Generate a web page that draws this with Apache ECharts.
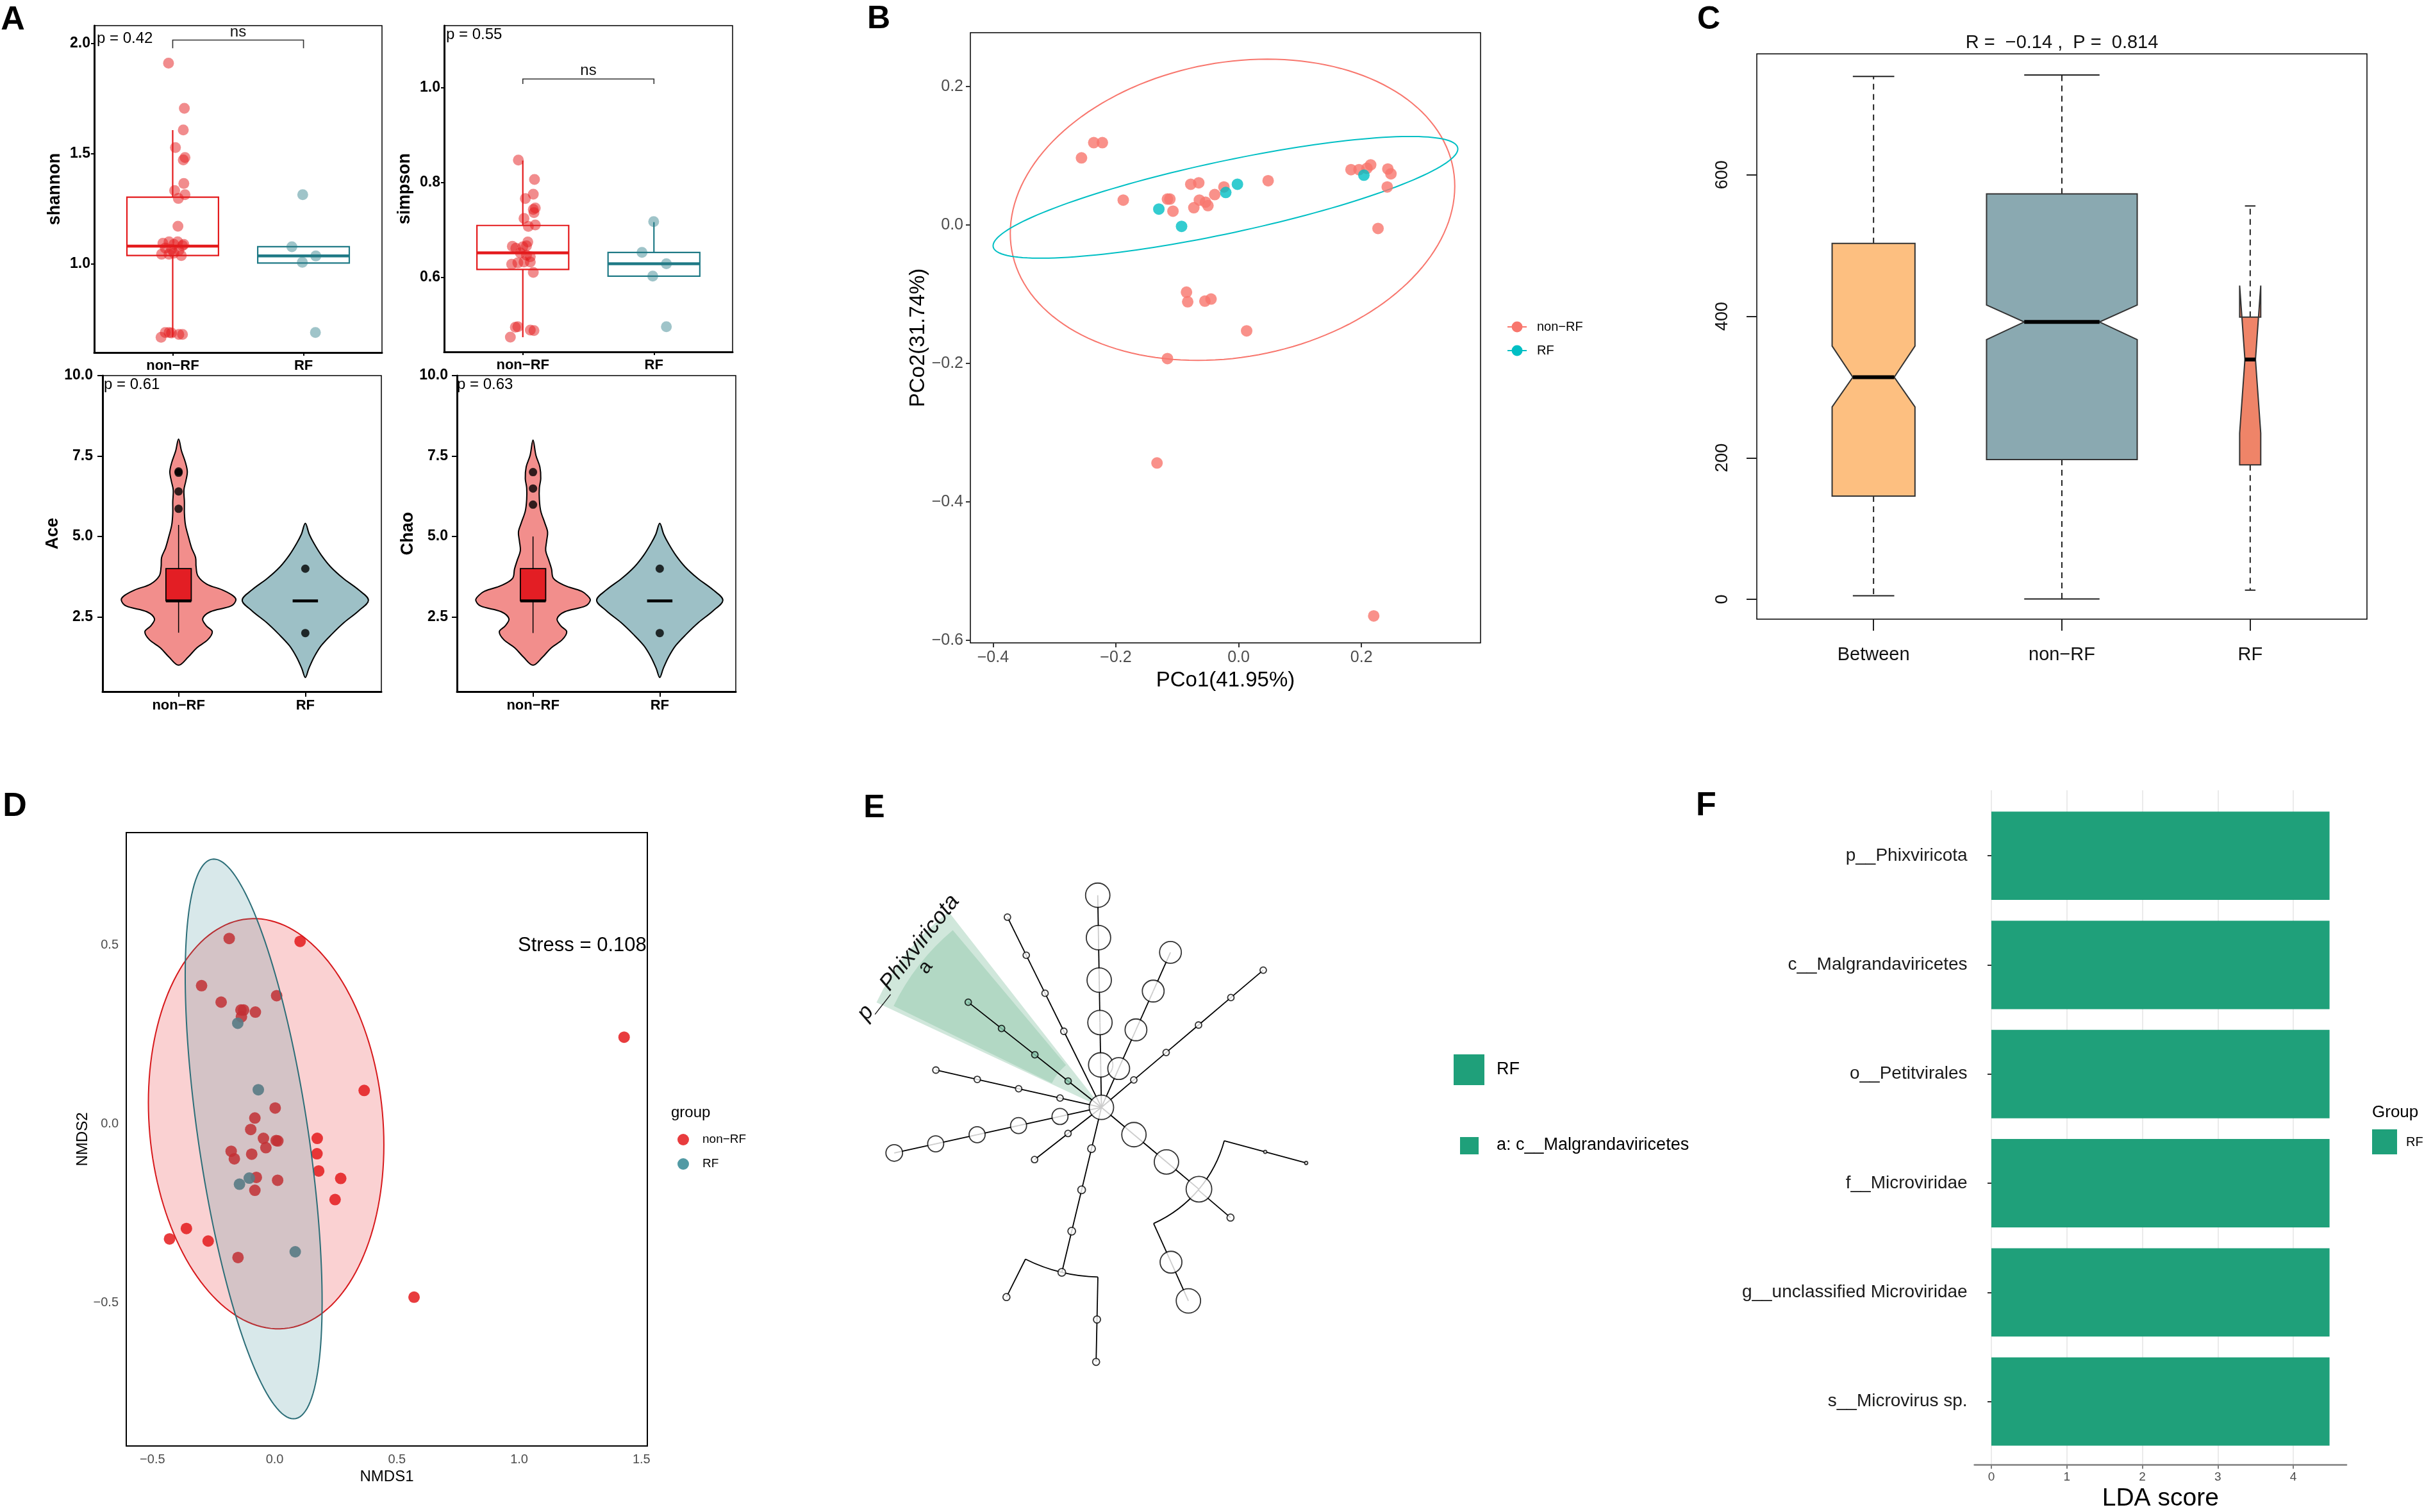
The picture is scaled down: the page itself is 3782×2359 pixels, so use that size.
<!DOCTYPE html>
<html><head><meta charset="utf-8">
<script src="https://cdn.jsdelivr.net/npm/echarts@6/dist/echarts.min.js"></script>
<style>html,body{margin:0;padding:0;background:#fff}#c{width:3782px;height:2359px}</style>
</head><body><div id="c"></div>
<script>
const FONT = '"Liberation Sans", Arial, Helvetica, sans-serif';

// ---------- Panel A data ----------
const groupsA = ['non−RF', 'RF'];
const shannonNonRF = [[0.968,1.910],[1.089,1.705],[1.081,1.607],[1.021,1.527],[1.094,1.482],[1.081,1.471],[1.085,1.364],[1.015,1.332],[1.094,1.313],[1.043,1.296],[1.040,1.170],
[0.925,1.093],[0.972,1.099],[1.009,1.088],[1.038,1.099],[1.075,1.082],[0.915,1.043],[0.972,1.043],[1.009,1.048],[1.066,1.037],[0.943,1.071],[0.991,1.065],[1.047,1.060],[1.085,1.088],
[0.911,0.666],[0.943,0.688],[0.972,0.688],[0.991,0.686],[1.047,0.679],[1.075,0.679]];
const shannonRF = [[1.994,1.313],[1.911,1.077],[2.094,1.035],[1.991,1.006],[2.091,0.688]];
// [x, lowerWhisker, q1, median, q3, upperWhisker]
const shannonBoxes = [[1,0.666,1.037,1.080,1.302,1.606],[2,1.003,1.003,1.035,1.077,1.077]];
const shannonTicks = [1.0,1.5,2.0];

const simpsonNonRF = [[0.966,0.847],[1.089,0.806],[1.080,0.775],[1.019,0.766],[1.095,0.746],[1.080,0.743],[1.085,0.736],[1.009,0.724],[1.095,0.710],[1.042,0.707],[1.038,0.674],
[0.920,0.665],[0.947,0.661],[1.000,0.664],[1.028,0.666],[0.981,0.651],[1.028,0.646],[1.057,0.643],[0.915,0.627],[0.962,0.630],[1.009,0.632],[1.057,0.632],[1.080,0.610],
[0.943,0.494],[0.962,0.495],[1.057,0.488],[1.085,0.487],[0.905,0.473]];
const simpsonRF = [[1.998,0.717],[1.909,0.652],[2.095,0.628],[1.991,0.602],[2.095,0.495]];
const simpsonBoxes = [[1,0.473,0.616,0.651,0.709,0.846],[2,0.602,0.602,0.628,0.652,0.716]];
const simpsonTicks = [0.6,0.8,1.0];

// violin density outlines: [value, half-width]
const aceNonRFViolin = [[1.0,0],[1.25,0.075],[1.54,0.144],[1.79,0.23],[2.04,0.266],[2.22,0.22],[2.44,0.19],[2.66,0.25],[2.84,0.414],[3.02,0.452],[3.16,0.429],[3.34,0.345],[3.52,0.222],[3.77,0.153],[4.06,0.138],[4.35,0.134],[4.64,0.103],[5.0,0.077],[5.36,0.054],[5.72,0.046],[6.08,0.046],[6.44,0.042],[6.72,0.057],[7.01,0.069],[7.30,0.054],[7.66,0.023],[8.03,0]];
const aceRFViolin = [[0.62,0],[0.89,0.027],[1.25,0.069],[1.61,0.126],[1.97,0.211],[2.33,0.307],[2.69,0.421],[3.02,0.498],[3.34,0.421],[3.70,0.299],[4.06,0.199],[4.42,0.126],[4.78,0.069],[5.07,0.031],[5.41,0]];
const chaoNonRFViolin = [[1.0,0],[1.25,0.075],[1.54,0.144],[1.79,0.23],[2.04,0.266],[2.22,0.22],[2.44,0.19],[2.66,0.25],[2.84,0.414],[3.02,0.452],[3.16,0.43],[3.30,0.383],[3.48,0.249],[3.70,0.161],[3.99,0.146],[4.28,0.123],[4.56,0.10],[4.85,0.107],[5.14,0.115],[5.43,0.092],[5.79,0.061],[6.15,0.05],[6.51,0.05],[6.80,0.061],[7.16,0.054],[7.52,0.023],[8.0,0]];
const chaoRFViolin = [[0.62,0],[0.89,0.027],[1.25,0.069],[1.61,0.126],[1.97,0.211],[2.33,0.307],[2.69,0.421],[3.02,0.498],[3.34,0.421],[3.70,0.299],[4.06,0.199],[4.42,0.126],[4.78,0.069],[5.07,0.031],[5.41,0]];
const aceBoxes = [[1,2.01,3.0,3.0,4.0,5.36],[2,3.0,3.0,3.0,3.0,3.0]];
const chaoBoxes = [[1,2.0,3.0,3.0,4.0,5.0],[2,3.0,3.0,3.0,3.0,3.0]];
const aceOutliers = [[1,7.02],[1,6.98],[1,6.40],[1,5.86],[2,4.0],[2,2.0]];
const chaoOutliers = [[1,7.0],[1,6.49],[1,5.99],[2,4.0],[2,2.0]];
const richTicks = [2.5,5.0,7.5,10.0];

// ---------- Panel B data ----------
const pcoaNonRF = [[-0.256,0.097],[-0.236,0.119],[-0.222,0.119],[-0.188,0.036],[-0.116,0.0375],[-0.112,0.0375],[-0.107,0.020],[-0.078,0.059],[-0.065,0.061],[-0.073,0.025],[-0.064,0.036],[-0.054,0.033],[-0.050,0.028],[-0.039,0.044],[-0.024,0.055],[0.048,0.064],[0.183,0.080],[0.196,0.080],[0.209,0.082],[0.215,0.087],[0.243,0.081],[0.248,0.074],[0.242,0.055],[0.227,-0.005],[-0.085,-0.097],[-0.083,-0.111],[-0.055,-0.110],[-0.045,-0.107],[0.013,-0.153],[-0.116,-0.193],[-0.133,-0.344],[0.220,-0.565]];
const pcoaRF = [[-0.130,0.023],[-0.093,-0.002],[-0.021,0.047],[-0.002,0.059],[0.204,0.072]];
// confidence ellipses: [cx, cy, ux, uy, vx, vy]
const pcoaEllipses = [[-0.01,0.022,0.362,0.034,0,0.215],[-0.0215,0.040,0.3785,0.070,0,0.0533]];
const pcoaXTicks = [-0.4,-0.2,0,0.2];
const pcoaYTicks = [-0.6,-0.4,-0.2,0,0.2];

// ---------- Panel C data ----------
const anosimCats = ['Between','non−RF','RF'];
// [x, lowerWhisker, q1, notchLow, median, notchHigh, q3, upperWhisker]
const anosimBoxes = [[1,5,146,272,314,358,503,739],[2,0.6,197.5,367,392,416,573,741],[3,13,190,235,339,443.5,399,556]];
const anosimRelWidth = [0.22,0.40,0.056];
const anosimTicks = [0,200,400,600];

// ---------- Panel D data ----------
const nmdsNonRF = [[-0.186,0.518],[0.104,0.510],[-0.299,0.386],[-0.219,0.340],[0.008,0.358],[-0.138,0.318],[-0.127,0.318],[-0.136,0.299],[-0.079,0.312],[1.429,0.242],[0.366,0.093],[0.002,0.044],[-0.081,0.016],[-0.098,-0.016],[-0.046,-0.041],[0.006,-0.047],[0.013,-0.048],[-0.036,-0.067],[0.174,-0.041],[0.173,-0.084],[-0.178,-0.077],[-0.165,-0.098],[-0.094,-0.085],[0.180,-0.132],[-0.075,-0.150],[0.012,-0.158],[-0.081,-0.186],[0.270,-0.153],[0.247,-0.212],[-0.361,-0.293],[-0.430,-0.322],[-0.272,-0.328],[-0.150,-0.374],[0.570,-0.485]];
const nmdsRF = [[-0.151,0.281],[-0.067,0.095],[-0.104,-0.152],[-0.144,-0.169],[0.084,-0.358]];
const nmdsEllipses = [[-0.035,0.0,0.4815,-0.059,0,0.5705],[-0.086,-0.0425,-0.163,0.7825,0.2276,0]];
const nmdsXTicks = [-0.5,0,0.5,1.0,1.5];
const nmdsYTicks = [-0.5,0,0.5];

// ---------- Panel E data (cladogram) ----------
const cladeLevel  = [0, 1,2,3,4,5, 1,2,3,4, 1,2,3,4,5, 2,3,4,5, 1,2,3,4, 1,2,3,4, 1,2,3,4,5, 1,2, 1,2,3,4,5,5,6, 1,2,3,4,5,4,4,5];
const cladeAngle  = [0, 91,91,91,91,91, 66,66,66,66, 40.3,40.3,40.3,40.3,40.3, 116.3,116.3,116.3,116.3, 141.7,141.7,141.7,141.7, 167.3,167.3,167.3,167.3, 192.4,192.4,192.4,192.4,192.4, 218,218, 256.5,256.5,256.5,256.5,243.4,268.8,268.8, 320,320,320,344.8,344.8,319.5,294.2,294.2];
const cladeParent = [-1, 0,1,2,3,4, 0,6,7,8, 0,10,11,12,13, 0,15,16,17, 0,19,20,21, 0,23,24,25, 0,27,28,29,30, 0,32, 0,34,35,36,37,37,39, 0,41,42,43,44,43,43,47];
const cladeAbund  = [19, 19,19,19,19,19, 17,17,17,17, 5,5,5,5,5, 5,5,5,5, 5,5,5,5, 5,5,5,5, 12.5,12.5,12.5,12.5,13, 5,5, 6,6,6,6,5.5,5.5,5.5, 19,19,20,2.5,2.5,5.5,17,19];
const cladeBiomarker = [19,20,21,22];
// highlighted clades: [innerLevel, outerLevel, angleFrom, angleTo]
const cladeSectors = [[0.3,5.85,128,155],[1.3,5.45,130,154]];
const cladeLabels = ['p__Phixviricota','a'];
const cladeLabelPos = [[5.76,142.2],[5.3,141.5]];

// ---------- Panel F data ----------
const ldaCats = ['p__Phixviricota','c__Malgrandaviricetes','o__Petitvirales','f__Microviridae','g__unclassified Microviridae','s__Microvirus sp.'];
const ldaScore = [4.48,4.48,4.48,4.48,4.48,4.48];
const ldaTicks = [0,1,2,3,4];

// ================= rendering =================
const signed = v => (v < 0 ? '−' : '') + Math.abs(v).toFixed(1);

function gridAt(l,t,r,b,extra){ return Object.assign({left:l, top:t, width:r-l, height:b-t, containLabel:false}, extra||{}); }
const frame = {show:true, borderColor:'#000', borderWidth:1.5, backgroundColor:'transparent'};
const grids = [
  gridAt(147,40,596,550,frame),
  gridAt(693,40,1143,549,frame),
  gridAt(160,586,595,1079,frame),
  gridAt(713,586,1148,1079,frame),
  gridAt(1514,51,2310,1003,frame),
  gridAt(2741,84,3693,966,frame),
  gridAt(197,1299,1010,2256,Object.assign({},frame,{borderWidth:2})),
  gridAt(3080.6,1250,3661,2271.8),
  gridAt(3080.6,1233,3661,2288.7)
];

function axA_x(i, margin, tickLen){
  return {gridIndex:i, type:'value', min:0.4, max:2.6,
    axisLine:{show:true, onZero:false, lineStyle:{color:'#000', width:3}},
    axisTick:{show:true, customValues:[1,2], length:tickLen, lineStyle:{color:'#000', width:2}},
    axisLabel:{customValues:[1,2], formatter:v=>groupsA[Math.round(v)-1], fontFamily:FONT, fontWeight:'bold', fontSize:22, color:'#000', margin},
    splitLine:{show:false}};
}
function axA_y(i, min, max, ticks, name, gap, margin, tickLen){
  return {gridIndex:i, type:'value', min, max,
    axisLine:{show:true, onZero:false, lineStyle:{color:'#000', width:3}},
    axisTick:{show:true, customValues:ticks, length:tickLen, lineStyle:{color:'#000', width:2}},
    axisLabel:{customValues:ticks, formatter:v=>v.toFixed(1), fontFamily:FONT, fontWeight:'bold', fontSize:23, color:'#000', margin},
    splitLine:{show:false},
    name, nameLocation:'middle', nameGap:gap, nameRotate:90,
    nameTextStyle:{fontFamily:FONT, fontWeight:'bold', fontSize:27, color:'#000', verticalAlign:'middle'}};
}
function axPlain(i, dir, min, max, ticks, fmt, o){
  o = o || {};
  return {gridIndex:i, type:'value', min, max,
    axisLine:{show:!!o.line, onZero:false, lineStyle:{color:o.lineColor||'#000', width:o.lineWidth||1.5}},
    axisTick:{show:o.tickLen>0, customValues:ticks, length:o.tickLen||0, lineStyle:{color:o.tickColor||'#333', width:2}},
    axisLabel:{customValues:ticks, formatter:fmt, fontFamily:FONT, fontSize:o.fs, color:o.color||'#4D4D4D', margin:o.margin, rotate:o.rotate||0},
    splitLine:{show:!!o.split, lineStyle:{color:'#EBEBEB', width:2}},
    name:o.name||'', nameLocation:'middle', nameGap:o.gap||0, nameRotate:dir==='y'?90:0,
    nameTextStyle:{fontFamily:FONT, fontSize:o.nfs||24, color:'#000', verticalAlign:'middle'}};
}

const xAxes = [
  axA_x(0,10,5), axA_x(1,10,5), axA_x(2,11,8), axA_x(3,11,8),
  axPlain(4,'x',-0.437,0.394,pcoaXTicks,signed,{fs:25,margin:11,tickLen:7,name:'PCo1(41.95%)',gap:59,nfs:33}),
  axPlain(5,'x',0.38,3.62,[1,2,3],v=>anosimCats[Math.round(v)-1],{fs:29,margin:41,tickLen:18,color:'#111',tickColor:'#222'}),
  axPlain(6,'x',-0.607,1.524,nmdsXTicks,signed,{fs:20,margin:11,tickLen:0,name:'NMDS1',gap:48,nfs:24}),
  {gridIndex:7, type:'value', min:-0.224, max:4.704, show:false},
  axPlain(8,'x',-0.224,4.704,ldaTicks,v=>String(v),{fs:19,margin:10,tickLen:6,tickColor:'#7F7F7F',line:true,lineColor:'#7F7F7F',lineWidth:2.5,split:true,name:'LDA score',gap:53,nfs:39})
];
const yAxes = [
  axA_y(0,0.597,2.08,shannonTicks,'shannon',61,6,5),
  axA_y(1,0.442,1.131,simpsonTicks,'simpson',61,6,5),
  axA_y(2,0.18,10.0,richTicks,'Ace',74,15,8),
  axA_y(3,0.18,10.0,richTicks,'Chao',72,14,8),
  axPlain(4,'y',-0.604,0.278,pcoaYTicks,signed,{fs:25,margin:11,tickLen:7,name:'PCo2(31.74%)',gap:78,nfs:33}),
  axPlain(5,'y',-28,771,anosimTicks,v=>String(v),{fs:27,margin:40,tickLen:16,color:'#111',tickColor:'#222',rotate:90}),
  axPlain(6,'y',-0.901,0.814,nmdsYTicks,signed,{fs:20,margin:12,tickLen:0,name:'NMDS2',gap:63,nfs:24}),
  {gridIndex:7, type:'category', data:ldaCats, inverse:true,
   axisLine:{show:false}, axisTick:{show:true, alignWithLabel:true, length:6, lineStyle:{color:'#333', width:2}},
   axisLabel:{fontFamily:FONT, fontSize:28, color:'#1a1a1a', margin:11}, splitLine:{show:false}},
  {gridIndex:8, type:'value', min:0, max:1, show:false}
];

// ----- renderers -----
const BOX_HW = 0.35;
function boxA(colors){
  return function(params, api){
    const x=api.value(0), lo=api.value(1), q1=api.value(2), med=api.value(3), q3=api.value(4), hi=api.value(5);
    const stroke = colors[params.dataIndex];
    const c=(a,b)=>api.coord([a,b]);
    const ch=[];
    const seg=(a,b,w)=>ch.push({type:'line', shape:{x1:a[0],y1:a[1],x2:b[0],y2:b[1]}, style:{stroke, lineWidth:w}});
    if(hi>q3) seg(c(x,q3),c(x,hi),2.2);
    if(lo<q1) seg(c(x,q1),c(x,lo),2.2);
    const L=c(x-BOX_HW,q3), R=c(x+BOX_HW,q1);
    ch.push({type:'rect', shape:{x:L[0],y:L[1],width:R[0]-L[0],height:R[1]-L[1]}, style:{fill:'#fff', stroke, lineWidth:2.2}});
    seg(c(x-BOX_HW,med),c(x+BOX_HW,med),4.5);
    return {type:'group', children:ch};
  };
}
function bracketRender(params, api){
  const x1=api.value(0), x2=api.value(1), yt=api.value(2), yd=api.value(3), ytx=api.value(4);
  const pts=[api.coord([x1,yd]),api.coord([x1,yt]),api.coord([x2,yt]),api.coord([x2,yd])];
  const tp=api.coord([(x1+x2)/2, ytx]);
  return {type:'group', children:[
    {type:'polyline', shape:{points:pts}, style:{stroke:'#333', lineWidth:1.6, fill:null}},
    {type:'text', x:tp[0], y:tp[1], style:{text:'ns', fontSize:24, fontFamily:FONT, fill:'#111', align:'center', verticalAlign:'middle'}}
  ]};
}
function violinRender(profiles, fills){
  return function(params, api){
    const cx=api.value(0), prof=profiles[params.dataIndex];
    const pts=[];
    prof.forEach(([v,h])=>pts.push(api.coord([cx+h,v])));
    for(let k=prof.length-2;k>=1;k--){ const [v,h]=prof[k]; pts.push(api.coord([cx-h,v])); }
    return {type:'polygon', shape:{points:pts, smooth:0.35}, style:{fill:fills[params.dataIndex], stroke:'#000', lineWidth:2}};
  };
}
const INNER_HW = 0.1;
function innerBox(params, api){
  const x=api.value(0), lo=api.value(1), q1=api.value(2), med=api.value(3), q3=api.value(4), hi=api.value(5);
  const c=(a,b)=>api.coord([a,b]);
  const ch=[];
  const seg=(a,b,w)=>ch.push({type:'line', shape:{x1:a[0],y1:a[1],x2:b[0],y2:b[1]}, style:{stroke:'#000', lineWidth:w}});
  if(hi>q3) seg(c(x,q3),c(x,hi),1.5);
  if(lo<q1) seg(c(x,q1),c(x,lo),1.5);
  if(q3>q1){ const L=c(x-INNER_HW,q3), R=c(x+INNER_HW,q1);
    ch.push({type:'rect', shape:{x:L[0],y:L[1],width:R[0]-L[0],height:R[1]-L[1]}, style:{fill:'#E31E24', stroke:'#000', lineWidth:1.8}}); }
  seg(c(x-INNER_HW,med),c(x+INNER_HW,med),4.5);
  return {type:'group', children:ch};
}
function ellipseRender(fills, strokes){
  return function(params, api){
    const cx=api.value(0), cy=api.value(1), ux=api.value(2), uy=api.value(3), vx=api.value(4), vy=api.value(5);
    const pts=[];
    for(let k=0;k<160;k++){ const t=2*Math.PI*k/160;
      pts.push(api.coord([cx+ux*Math.cos(t)+vx*Math.sin(t), cy+uy*Math.cos(t)+vy*Math.sin(t)])); }
    return {type:'polygon', shape:{points:pts}, style:{fill:fills[params.dataIndex], stroke:strokes[params.dataIndex], lineWidth:2}};
  };
}
const anosimFills = ['#FDBF80','#8AA9B1','#EF8468'];
function notchRender(params, api){
  const i=params.dataIndex;
  const x=api.value(0), lo=api.value(1), q1=api.value(2), nl=api.value(3), med=api.value(4), nh=api.value(5), q3=api.value(6), hi=api.value(7);
  const bw=anosimRelWidth[i], nw=bw/2, cw=bw/2;
  const c=(a,b)=>api.coord([a,b]);
  const ch=[];
  const seg=(a,b,w,dash,col)=>ch.push({type:'line', shape:{x1:a[0],y1:a[1],x2:b[0],y2:b[1]}, style:{stroke:col||'#222', lineWidth:w, lineDash:dash||null}});
  seg(c(x,q1),c(x,lo),2,[9,7]); seg(c(x,q3),c(x,hi),2,[9,7]);
  seg(c(x-cw,lo),c(x+cw,lo),2); seg(c(x-cw,hi),c(x+cw,hi),2);
  const poly=[c(x-bw,q1),c(x-bw,nl),c(x-nw,med),c(x-bw,nh),c(x-bw,q3),c(x+bw,q3),c(x+bw,nh),c(x+nw,med),c(x+bw,nl),c(x+bw,q1)];
  ch.push({type:'polygon', shape:{points:poly}, style:{fill:anosimFills[i], stroke:'#333', lineWidth:2}});
  seg(c(x-nw,med),c(x+nw,med),6,null,'#000');
  return {type:'group', children:ch};
}
const sectorFills = ['#D0E7DB','#B2D8C4'];
function sectorRender(params, api){
  const r0=api.value(0), r1=api.value(1), a0=api.value(2), a1=api.value(3);
  const o=api.coord([0,0]), p1=api.coord([r1,a0]), p0=api.coord([r0,a0]);
  const R1=Math.hypot(p1[0]-o[0],p1[1]-o[1]), R0=Math.hypot(p0[0]-o[0],p0[1]-o[1]);
  return {type:'sector', shape:{cx:o[0], cy:o[1], r0:R0, r:R1, startAngle:-a1*Math.PI/180, endAngle:-a0*Math.PI/180, clockwise:true}, style:{fill:sectorFills[params.dataIndex]}};
}
function edgeRender(params, api){
  const pr=api.value(0), pa=api.value(1), cr=api.value(2), ca=api.value(3);
  const o=api.coord([0,0]);
  const ch=[];
  if(pr>0 && Math.abs(ca-pa)>0.05){
    const p=api.coord([pr,pa]); const R=Math.hypot(p[0]-o[0],p[1]-o[1]);
    ch.push({type:'arc', shape:{cx:o[0], cy:o[1], r:R, startAngle:-pa*Math.PI/180, endAngle:-ca*Math.PI/180, clockwise:ca<pa}, style:{stroke:'#000', lineWidth:1.8, fill:null}});
  }
  const a=api.coord([pr,ca]), b=api.coord([cr,ca]);
  ch.push({type:'line', shape:{x1:a[0],y1:a[1],x2:b[0],y2:b[1]}, style:{stroke:'#000', lineWidth:1.8}});
  return {type:'group', children:ch};
}
function cladeLabelRender(params, api){
  const r=api.value(0), a=api.value(1);
  const p=api.coord([r,a]);
  const i=params.dataIndex;
  return {type:'text', x:p[0], y:p[1], rotation:(a-90)*Math.PI/180,
    style:{text:cladeLabels[i], fontSize:i===0?35:30, fontFamily:FONT, fill:'#111', align:'center', verticalAlign:'middle', fontStyle:i===0?'italic':'normal'}};
}

const cladeNodes = cladeLevel.map((l,k)=>[l, cladeAngle[k]]);
const cladeEdges = cladeParent.map((p,k)=>p<0?null:[cladeLevel[p], cladeAngle[p], cladeLevel[k], cladeAngle[k]]).filter(e=>e);

const series = [];
// A: shannon / simpson
[[0,shannonBoxes,shannonNonRF,shannonRF,[[1,2,2.0146,1.9775,2.05]]],[1,simpsonBoxes,simpsonNonRF,simpsonRF,[[1,2,1.0183,1.0079,1.0356]]]].forEach(([g,boxes,a,b,br])=>{
  series.push({type:'custom', xAxisIndex:g, yAxisIndex:g, renderItem:boxA(['#E41A1C','#1F7A86']), data:boxes, z:2, silent:true});
  series.push({type:'scatter', xAxisIndex:g, yAxisIndex:g, data:a, symbolSize:17, itemStyle:{color:'#E41A1C', opacity:0.5}, z:3, silent:true});
  series.push({type:'scatter', xAxisIndex:g, yAxisIndex:g, data:b, symbolSize:17, itemStyle:{color:'#2B7C88', opacity:0.45}, z:3, silent:true});
  series.push({type:'custom', xAxisIndex:g, yAxisIndex:g, renderItem:bracketRender, data:br, z:4, silent:true});
});
// A: ace / chao
[[2,[aceNonRFViolin,aceRFViolin],aceBoxes,aceOutliers],[3,[chaoNonRFViolin,chaoRFViolin],chaoBoxes,chaoOutliers]].forEach(([g,profs,boxes,outl])=>{
  series.push({type:'custom', xAxisIndex:g, yAxisIndex:g, renderItem:violinRender(profs,['#F28E8C','#9DC0C6']), data:[[1,3],[2,3]], z:2, silent:true});
  series.push({type:'custom', xAxisIndex:g, yAxisIndex:g, renderItem:innerBox, data:boxes, z:3, silent:true});
  series.push({type:'scatter', xAxisIndex:g, yAxisIndex:g, data:outl, symbolSize:13, itemStyle:{color:'#000'}, z:4, silent:true});
});
// B
series.push({type:'custom', xAxisIndex:4, yAxisIndex:4, renderItem:ellipseRender([null,null],['#F8766D','#00BFC4']), data:pcoaEllipses, z:2, silent:true});
series.push({type:'scatter', xAxisIndex:4, yAxisIndex:4, data:pcoaNonRF, symbolSize:18, itemStyle:{color:'#F8766D'}, z:3, silent:true});
series.push({type:'scatter', xAxisIndex:4, yAxisIndex:4, data:pcoaRF, symbolSize:18, itemStyle:{color:'#00BFC4'}, z:3, silent:true});
// C
series.push({type:'custom', xAxisIndex:5, yAxisIndex:5, renderItem:notchRender, data:anosimBoxes, z:2, silent:true});
// D
series.push({type:'scatter', xAxisIndex:6, yAxisIndex:6, data:nmdsNonRF, symbolSize:18, itemStyle:{color:'#E41A1C', opacity:0.85}, z:2, silent:true});
series.push({type:'scatter', xAxisIndex:6, yAxisIndex:6, data:nmdsRF, symbolSize:18, itemStyle:{color:'#3F8F9A', opacity:0.9}, z:2, silent:true});
series.push({type:'custom', xAxisIndex:6, yAxisIndex:6, renderItem:ellipseRender(['rgba(228,26,28,0.2)','rgba(60,140,150,0.2)'],['#D7191C','#2C6E78']), data:nmdsEllipses, z:3, silent:true});
// E
series.push({type:'custom', coordinateSystem:'polar', polarIndex:0, renderItem:sectorRender, data:cladeSectors, z:1, silent:true});
series.push({type:'custom', coordinateSystem:'polar', polarIndex:0, renderItem:edgeRender, data:cladeEdges, z:2, silent:true});
series.push({type:'scatter', coordinateSystem:'polar', polarIndex:0, data:cladeNodes,
  symbolSize:(v,p)=>2*cladeAbund[p.dataIndex],
  itemStyle:{color:p=>cladeBiomarker.indexOf(p.dataIndex)>=0?'#8DCBB0':'#fff', borderColor:'#000', borderWidth:1.8}, z:3, silent:true});
series.push({type:'custom', coordinateSystem:'polar', polarIndex:0, renderItem:cladeLabelRender, data:cladeLabelPos, z:4, silent:true});
// F
series.push({type:'bar', xAxisIndex:7, yAxisIndex:7, data:ldaScore, barWidth:'81%', itemStyle:{color:'#1FA07A'}, z:2, silent:true});

// ----- annotations -----
function T(x,y,text,size,o){ o=o||{};
  return {type:'text', x, y, rotation:o.rot||0, z:100,
    style:{text, fontSize:size, fontFamily:FONT, fontWeight:o.weight||'normal', fill:o.color||'#000', align:o.align||'left', verticalAlign:'middle'}};
}
const elements = [
  T(20,32,'A',52,{weight:'bold',align:'center'}),
  T(1371,30,'B',50,{weight:'bold',align:'center'}),
  T(2666,31,'C',50,{weight:'bold',align:'center'}),
  T(23,1259,'D',52,{weight:'bold',align:'center'}),
  T(1364,1261,'E',50,{weight:'bold',align:'center'}),
  T(2662,1258,'F',52,{weight:'bold',align:'center'}),
  T(151,60,'p = 0.42',24), T(696,54,'p = 0.55',24), T(162,600,'p = 0.61',24), T(713,600,'p = 0.63',24),
  T(3217,67,'R =  −0.14 ,  P =  0.814',29,{align:'center',color:'#111'}),
  T(808,1475,'Stress = 0.108',31),
  // B legend
  {type:'line', shape:{x1:2352,y1:510,x2:2382,y2:510}, style:{stroke:'#F8766D', lineWidth:2}, z:100},
  {type:'circle', shape:{cx:2367,cy:510,r:8.5}, style:{fill:'#F8766D'}, z:101},
  {type:'line', shape:{x1:2352,y1:547,x2:2382,y2:547}, style:{stroke:'#00BFC4', lineWidth:2}, z:100},
  {type:'circle', shape:{cx:2367,cy:547,r:8.5}, style:{fill:'#00BFC4'}, z:101},
  T(2398,510,'non−RF',20), T(2398,547,'RF',20),
  // D legend
  T(1047,1736,'group',24),
  {type:'circle', shape:{cx:1066,cy:1778,r:9}, style:{fill:'#E41A1C', opacity:0.85}, z:101},
  {type:'circle', shape:{cx:1066,cy:1816,r:9}, style:{fill:'#3F8F9A', opacity:0.9}, z:101},
  T(1096,1778,'non−RF',19), T(1096,1816,'RF',19),
  // E legend
  {type:'rect', shape:{x:2268,y:1645,width:48,height:48}, style:{fill:'#1FA07A'}, z:100},
  T(2335,1669,'RF',27),
  {type:'rect', shape:{x:2278,y:1774,width:29,height:27}, style:{fill:'#1FA07A'}, z:100},
  T(2335,1787,'a: c__Malgrandaviricetes',27),
  // F legend
  T(3701,1736,'Group',26),
  {type:'rect', shape:{x:3701,y:1762,width:39,height:39}, style:{fill:'#1FA07A'}, z:100},
  T(3754,1782,'RF',20)
];

const option = {
  animation:false,
  backgroundColor:'#fff',
  textStyle:{fontFamily:FONT},
  grid:grids,
  xAxis:xAxes,
  yAxis:yAxes,
  polar:{center:[1718.5,1727.7], radius:397.2},
  angleAxis:{polarIndex:0, type:'value', min:0, max:360, startAngle:0, clockwise:false, show:false},
  radiusAxis:{polarIndex:0, type:'value', min:0, max:6, show:false},
  series,
  graphic:{elements}
};
const chart = echarts.init(document.getElementById('c'), null, {renderer:'canvas', width:3782, height:2359});
chart.setOption(option);
</script></body></html>
